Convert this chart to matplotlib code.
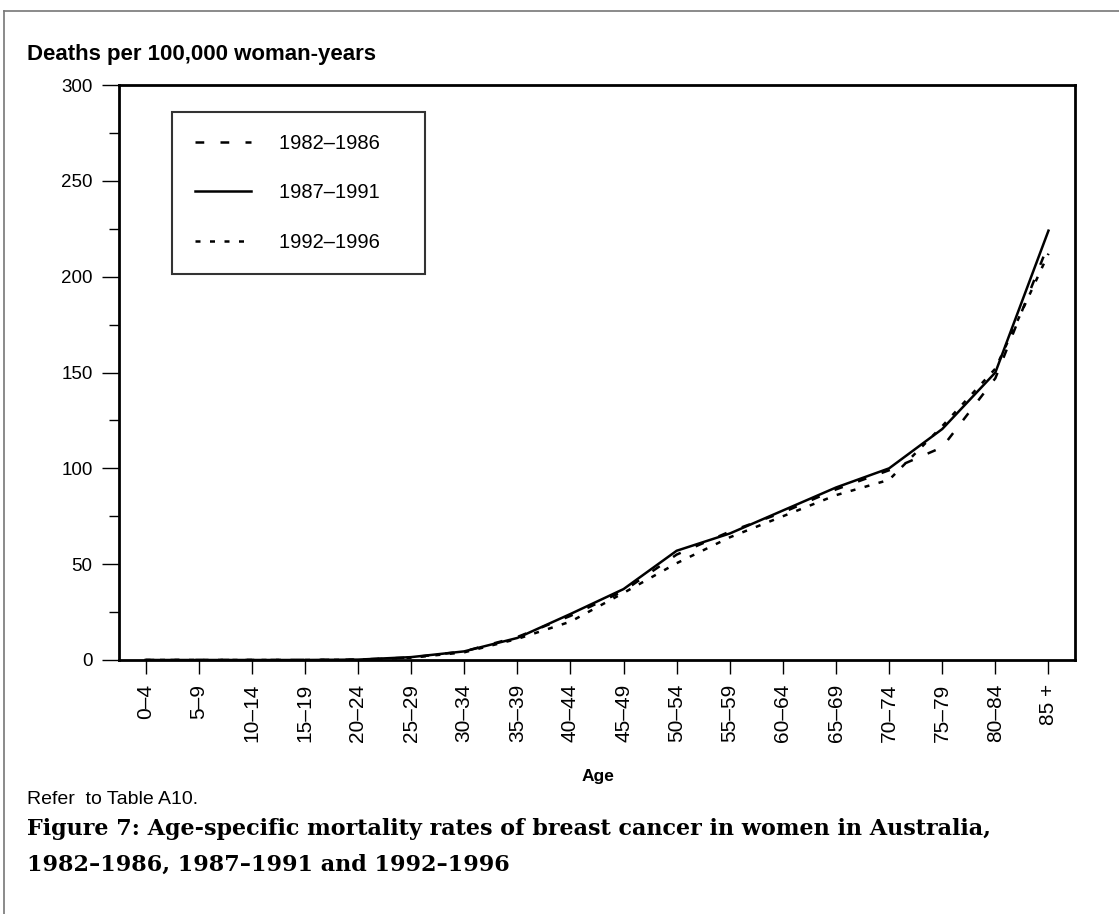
import numpy as np
import matplotlib.pyplot as plt
from matplotlib.lines import Line2D
from matplotlib.ticker import MultipleLocator

ages = ['0\u20134', '5\u20139', '10\u201314', '15\u201319', '20\u201324', '25\u201329',
        '30\u201334', '35\u201339', '40\u201344', '45\u201349', '50\u201354', '55\u201359',
        '60\u201364', '65\u201369', '70\u201374', '75\u201379', '80\u201384', '85 +']
rate_1982 = [0, 0, 0, 0, 0.2, 1.3, 4.5, 12, 23, 36, 55, 67, 77, 89, 99, 111, 147, 217]
rate_1987 = [0, 0, 0, 0, 0.2, 1.5, 4.5, 11.5, 24, 37, 57, 66, 78, 90, 100, 120.5, 150, 224]
rate_1992 = [0, 0, 0, 0, 0.1, 1.2, 4.0, 11, 20, 35, 50.5, 64, 75, 86, 94, 122, 152, 212]
labels = ['1982\u20131986', '1987\u20131991', '1992\u20131996']

plt.rcParams['font.family'] = ['Liberation Sans', 'DejaVu Sans']

fig = plt.figure(figsize=(11.19, 9.14), dpi=100)
ax = fig.add_axes([0.1063, 0.2779, 0.8544, 0.6291])

x = np.arange(len(ages))
ax.plot(x, rate_1982, color='black', lw=1.8, dashes=(3.5, 6.5))
ax.plot(x, rate_1987, color='black', lw=1.8)
ax.plot(x, rate_1992, color='black', lw=1.8, dashes=(2.0, 3.8))

ax.set_xlim(-0.5, 17.5)
ax.set_ylim(0, 300)
ax.set_xticks(x)
ax.set_xticklabels(ages, rotation=90, fontsize=15, va='top', ha='center')
ax.yaxis.set_major_locator(MultipleLocator(50))
ax.yaxis.set_minor_locator(MultipleLocator(25))
ax.tick_params(axis='y', which='major', labelsize=13.5, length=12, width=1, pad=7)
ax.tick_params(axis='y', which='minor', length=7, width=1)
ax.tick_params(axis='x', length=10, width=1, pad=7)
for s in ax.spines.values():
    s.set_linewidth(2)

handles = [Line2D([], [], color='black', lw=1.8, dashes=(3.5, 6.5)),
           Line2D([], [], color='black', lw=1.8),
           Line2D([], [], color='black', lw=1.8, dashes=(2.0, 3.8))]
# trailing spaces widen the box on the right like the original
leg = ax.legend(handles, [l + '    ' for l in labels], loc='upper left',
                bbox_to_anchor=(0.056, 0.953),
                fontsize=14.5, frameon=True, fancybox=False, handlelength=2.8,
                handletextpad=1.4, labelspacing=1.5, borderpad=1.1, borderaxespad=0)
leg.get_frame().set_edgecolor('black')
leg.get_frame().set_linewidth(1.5)

fig.text(0.024, 0.9345, 'Deaths per 100,000 woman-years', fontsize=16, fontweight='bold')
fig.text(0.534, 0.1455, 'Age', fontsize=12.5, fontweight='bold', ha='center')
fig.text(0.024, 0.120, 'Refer  to Table A10.', fontsize=14)
fig.text(0.024, 0.0866, 'Figure 7: Age-specific mortality rates of breast cancer in women in Australia,',
         fontsize=16, fontweight='bold', family='DejaVu Serif')
fig.text(0.024, 0.0476, '1982\u20131986, 1987\u20131991 and 1992\u20131996',
         fontsize=16, fontweight='bold', family='DejaVu Serif')

# outer page frame (top and left edges)
fig.add_artist(Line2D([0.004, 1.0], [0.988, 0.988], color='#777777', lw=1.2))
fig.add_artist(Line2D([0.004, 0.004], [0.0, 0.988], color='#777777', lw=1.2))

fig.savefig('out.png', dpi=100)
